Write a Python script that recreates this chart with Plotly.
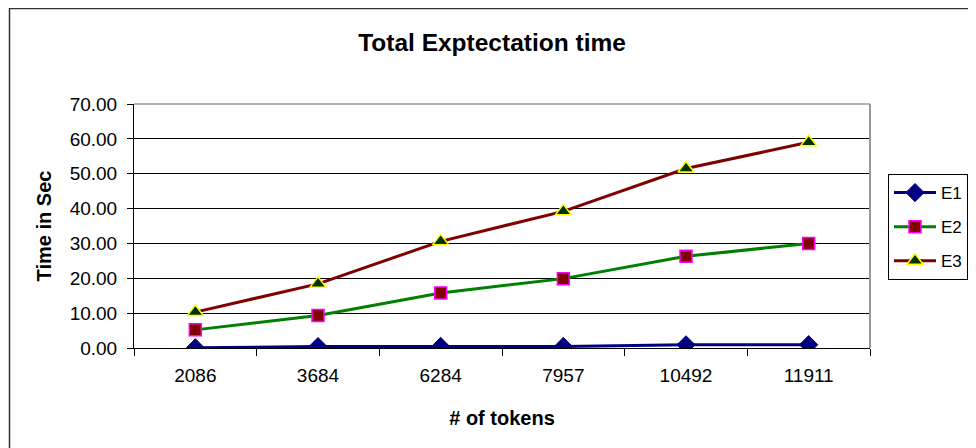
import plotly.graph_objects as go

categories = ["2086", "3684", "6284", "7957", "10492", "11911"]
e1 = [0.05, 0.4, 0.45, 0.45, 0.9, 0.95]
e2 = [5.2, 9.3, 15.8, 19.9, 26.3, 30.0]
e3 = [10.3, 18.4, 30.6, 39.2, 51.5, 59.0]
y_ticks = [0, 10, 20, 30, 40, 50, 60, 70]
y_tick_labels = ["0.00", "10.00", "20.00", "30.00", "40.00", "50.00", "60.00", "70.00"]

FONT = "Arial, Liberation Sans, sans-serif"

fig = go.Figure()
fig.add_trace(go.Scatter(
    x=categories, y=e1, name="E1", mode="lines+markers", legendgroup="a",
    line=dict(color="#000080", width=3),
    marker=dict(symbol="diamond", size=14, color="#000080", line=dict(color="#000080", width=1)),
))
fig.add_trace(go.Scatter(
    x=categories, y=e2, name="E2", mode="lines+markers", legendgroup="b",
    line=dict(color="#008000", width=3),
    marker=dict(symbol="square", size=12, color="#800000", line=dict(color="#FF00FF", width=1.5)),
))
fig.add_trace(go.Scatter(
    x=categories, y=e3, name="E3", mode="lines+markers", legendgroup="c",
    line=dict(color="#800000", width=3),
    marker=dict(symbol="triangle-up", size=14, color="#003300", line=dict(color="#FFFF00", width=1.5)),
))

# page has an 8px body margin; work in window coordinates and subtract it
OFF = 8
W, H = 976 - OFF, 448 - OFF
PL, PR, PT, PB = 134 - OFF, 870 - OFF, 104 - OFF, 348 - OFF
L, R, T, B = PL, W - PR, PT, H - PB
pw, ph = PR - PL, PB - PT

def px(xw):
    return (xw - OFF - PL) / pw

def py(yw):
    return (PB - (yw - OFF)) / ph

fig.update_layout(
    width=W, height=H,
    margin=dict(l=L, r=R, t=T, b=B, autoexpand=False),
    paper_bgcolor="white", plot_bgcolor="white",
    font=dict(family=FONT, size=19, color="black"),
    title=dict(text="<b>Total Exptectation time</b>", x=px(492), xref="paper", xanchor="center",
               y=1 - (42 - OFF) / H, yanchor="middle", font=dict(size=24.5)),
    showlegend=True,
    legend=dict(x=px(888), y=py(174), xanchor="left", yanchor="top",
                bordercolor="black", borderwidth=1, bgcolor="white",
                font=dict(size=17), traceorder="grouped", tracegroupgap=9,
                itemwidth=42),
    xaxis=dict(
        type="category", range=[-0.5, 5.5], showgrid=False,
        showline=True, linecolor="black", linewidth=1,
        ticks="outside", tickson="boundaries", ticklen=7, tickcolor="black",
        tickfont=dict(size=19), ticklabelstandoff=10,
        title=dict(text="<b># of tokens</b>", font=dict(size=20), standoff=26),
    ),
    yaxis=dict(
        range=[0, 70], tickvals=y_ticks, ticktext=y_tick_labels,
        showgrid=True, gridcolor="black", gridwidth=1,
        showline=True, linecolor="black", linewidth=1,
        ticks="outside", ticklen=6, tickcolor="black",
        tickfont=dict(size=19), zeroline=False, ticklabelstandoff=6,
        title=dict(text="<b>Time in Sec</b>", font=dict(size=20), standoff=12),
    ),
    shapes=[
        dict(type="line", xref="paper", yref="paper", x0=0, x1=1, y0=1, y1=1,
             line=dict(color="#999999", width=1.5)),
        dict(type="line", xref="paper", yref="paper", x0=1, x1=1, y0=0, y1=1,
             line=dict(color="#999999", width=2)),
        dict(type="rect", xref="paper", yref="paper",
             x0=px(9.5), x1=px(1000), y0=py(8.5), y1=py(480),
             line=dict(color="#333333", width=1.5), fillcolor="rgba(0,0,0,0)", layer="below"),
    ],
)

fig.write_html("out.html")
